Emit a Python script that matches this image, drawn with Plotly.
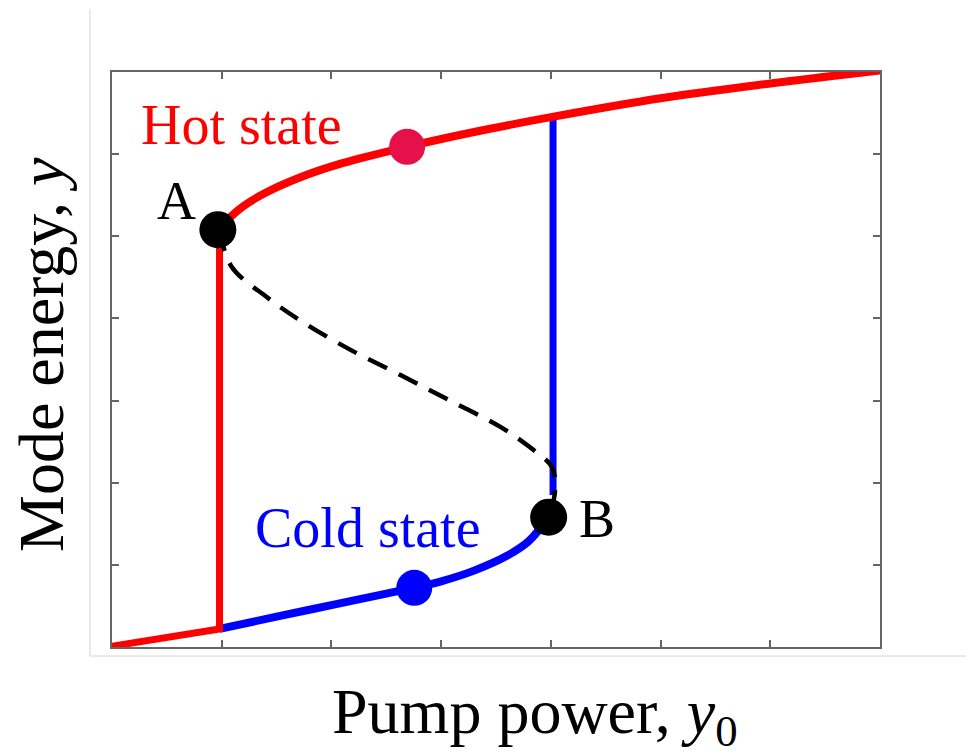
import plotly.graph_objects as go

# ---- data (axis units 0..7) ----
red_low_x = [0.0, 0.98, 0.98]
red_low_y = [0.01, 0.22, 5.07]

hot_x = [0.965, 1.05, 1.2, 1.4, 1.7, 2.1, 2.69, 3.3, 4.0, 5.0, 6.0, 7.0]
hot_y = [5.08, 5.20, 5.37, 5.53, 5.71, 5.89, 6.09, 6.27, 6.45, 6.68, 6.86, 7.02]

cold_x = [0.98, 1.5, 2.0, 2.5, 2.75, 3.0, 3.3, 3.6, 3.8, 3.98]
cold_y = [0.22, 0.37, 0.51, 0.65, 0.72, 0.80, 0.93, 1.11, 1.29, 1.58]

jump_x = [4.02, 4.02]
jump_y = [1.85, 6.46]

unstable_x = [0.98, 1.09, 1.41, 1.71, 2.17, 2.63, 3.08, 3.54, 3.84, 4.01, 4.04, 4.02]
unstable_y = [5.07, 4.63, 4.26, 3.98, 3.62, 3.31, 3.00, 2.68, 2.40, 2.19, 1.95, 1.75]

pt_black_x = [0.965, 3.98]
pt_black_y = [5.08, 1.58]
pt_hot = (2.69, 6.09)
pt_cold = (2.755, 0.72)

x_ticks = [0, 1, 2, 3, 4, 5, 6, 7]
y_ticks = [0, 1, 2, 3, 4, 5, 6, 7]

RED = "#FF0000"
BLUE = "#0000FF"
PINK = "#E6104A"
FONT = "Liberation Serif, Times New Roman, serif"

fig = go.Figure()
fig.add_trace(go.Scatter(x=cold_x, y=cold_y, mode="lines", line=dict(color=BLUE, width=8, shape="spline"), hoverinfo="skip"))
fig.add_trace(go.Scatter(x=jump_x, y=jump_y, mode="lines", line=dict(color=BLUE, width=7), hoverinfo="skip"))
fig.add_trace(go.Scatter(x=red_low_x, y=red_low_y, mode="lines", line=dict(color=RED, width=7), hoverinfo="skip"))
fig.add_trace(go.Scatter(x=hot_x, y=hot_y, mode="lines", line=dict(color=RED, width=8, shape="spline"), hoverinfo="skip"))
fig.add_trace(go.Scatter(x=unstable_x, y=unstable_y, mode="lines",
                         line=dict(color="black", width=4.5, dash="21px,13px", shape="spline"), hoverinfo="skip"))
fig.add_trace(go.Scatter(x=pt_black_x, y=pt_black_y, mode="markers", marker=dict(color="black", size=37), hoverinfo="skip"))
fig.add_trace(go.Scatter(x=[pt_hot[0]], y=[pt_hot[1]], mode="markers", marker=dict(color=PINK, size=36), hoverinfo="skip"))
fig.add_trace(go.Scatter(x=[pt_cold[0]], y=[pt_cold[1]], mode="markers", marker=dict(color=BLUE, size=36), hoverinfo="skip"))

W, H = 966, 754
L, R, T, B = 112, 86, 72, 107
pw, ph = W - L - R, H - T - B

def px(xp):
    return (xp - L) / pw

def py(yp):
    return (H - B - yp) / ph

ann = [
    dict(text="Hot state", x=px(139), y=py(125), xanchor="left", yanchor="middle", font=dict(color=RED, size=56)),
    dict(text="Cold state", x=px(253), y=py(528), xanchor="left", yanchor="middle", font=dict(color=BLUE, size=56)),
    dict(text="A", x=px(155), y=py(201), xanchor="left", yanchor="middle", font=dict(color="black", size=54)),
    dict(text="B", x=px(577), y=py(519), xanchor="left", yanchor="middle", font=dict(color="black", size=54)),
    dict(text="Pump power, <i>y</i><sub>0</sub> ", x=px(330), y=py(716), xanchor="left", yanchor="middle",
         font=dict(color="black", size=64)),
    dict(text="Mode energy, <i>y</i>", x=px(41), y=py(355), xanchor="center", yanchor="middle", textangle=-90,
         font=dict(color="black", size=64)),
]
for a in ann:
    a.update(xref="paper", yref="paper", showarrow=False)
    a["font"]["family"] = FONT

shapes = [
    dict(type="line", xref="paper", yref="paper", x0=px(90), x1=px(90), y0=py(9), y1=py(656),
         line=dict(color="#d4d4d4", width=1)),
    dict(type="line", xref="paper", yref="paper", x0=px(90), x1=px(966), y0=py(656), y1=py(656),
         line=dict(color="#d4d4d4", width=1)),
]

axis_common = dict(showgrid=False, zeroline=False, showticklabels=False, ticks="inside", ticklen=7,
                   tickwidth=1.5, tickcolor="#666", showline=True, linecolor="#666", linewidth=2,
                   mirror="ticks", tickmode="array")

fig.update_layout(
    width=W, height=H, margin=dict(l=L, r=R, t=T, b=B),
    paper_bgcolor="white", plot_bgcolor="white", showlegend=False,
    xaxis=dict(range=[0, 7], tickvals=x_ticks, **axis_common),
    yaxis=dict(range=[0, 7], tickvals=y_ticks, **axis_common),
    annotations=ann, shapes=shapes,
    font=dict(family=FONT),
)
fig.write_html("out.html")
